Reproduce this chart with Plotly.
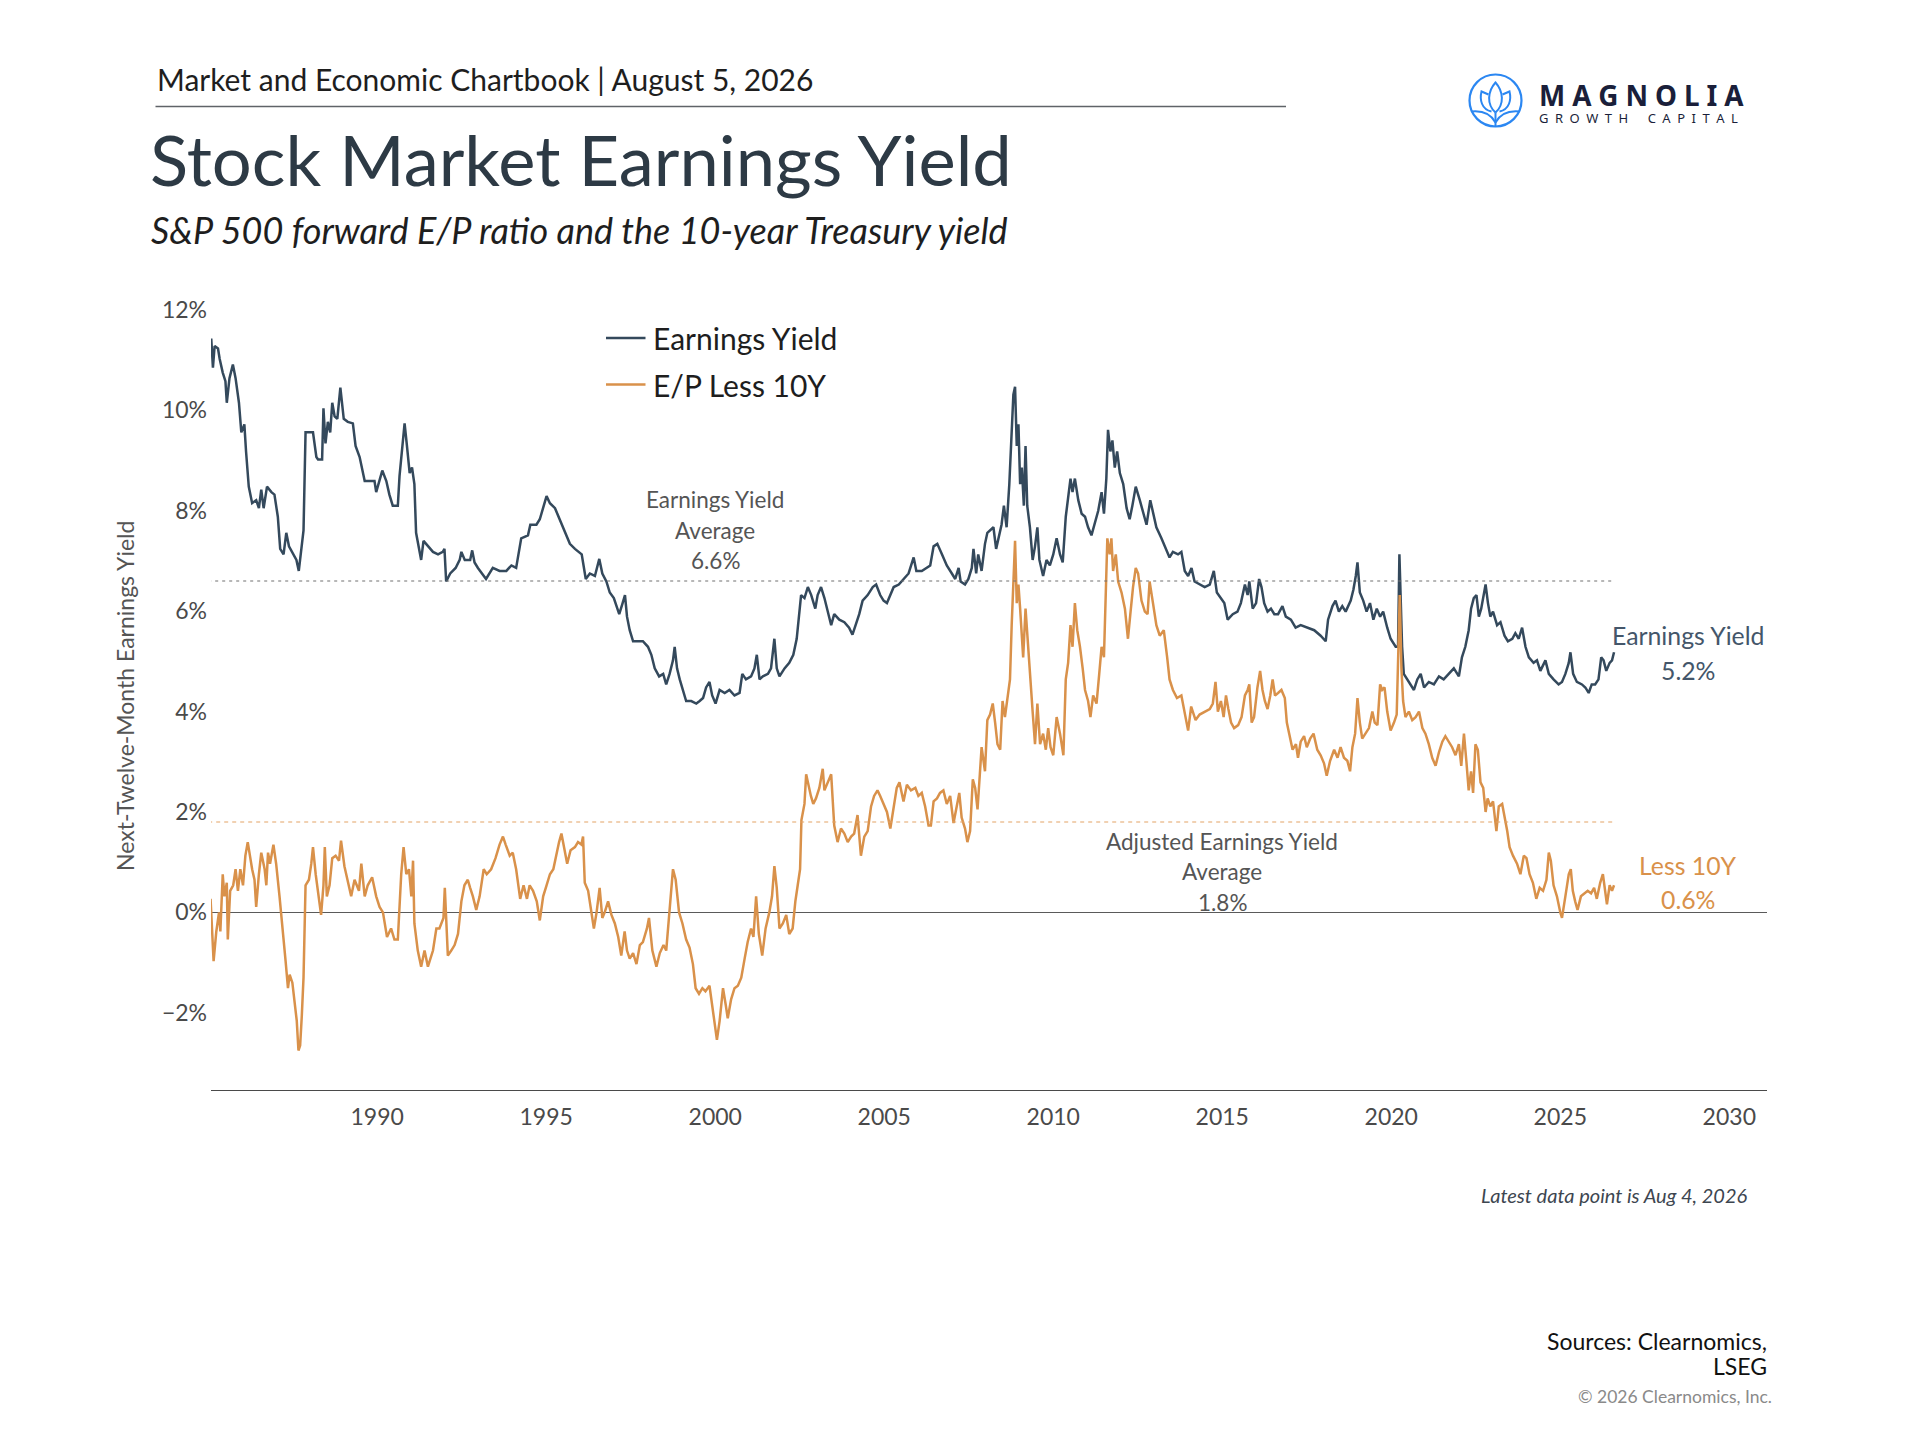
#chart: stock market earnings yield vs E/P less 10y treasury

#%%
import plotly.graph_objects as go

#%%
#values (decimal years, percent)

ey_year = [1985.09, 1985.14, 1985.19, 1985.29, 1985.34, 1985.43, 1985.51, 1985.55, 1985.63, 1985.73,
           1985.81, 1985.91, 1985.98, 1986.07, 1986.12, 1986.2, 1986.3, 1986.42, 1986.5, 1986.57,
           1986.64, 1986.74, 1986.87, 1986.96, 1987.06, 1987.13, 1987.23, 1987.31, 1987.39, 1987.49,
           1987.61, 1987.68, 1987.75, 1987.82, 1987.88, 1988.1, 1988.2, 1988.25, 1988.37, 1988.41,
           1988.47, 1988.54, 1988.61, 1988.67, 1988.74, 1988.82, 1988.91, 1989.01, 1989.13, 1989.28,
           1989.36, 1989.48, 1989.63, 1989.78, 1989.92, 1989.97, 1990.07, 1990.15, 1990.27, 1990.36,
           1990.46, 1990.61, 1990.66, 1990.74, 1990.81, 1990.88, 1990.96, 1991.03, 1991.1, 1991.15,
           1991.25, 1991.3, 1991.37, 1991.5, 1991.65, 1991.8, 1991.94, 1991.99, 1992.04, 1992.16,
           1992.32, 1992.44, 1992.49, 1992.59, 1992.75, 1992.81, 1992.88, 1992.98, 1993.22, 1993.42,
           1993.62, 1993.82, 1993.97, 1994.11, 1994.26, 1994.46, 1994.53, 1994.71,
           1994.81, 1995.01, 1995.11, 1995.26, 1995.4, 1995.55, 1995.7, 1995.85, 1995.98, 1996.05,
           1996.09, 1996.17, 1996.29, 1996.44, 1996.57, 1996.66, 1996.78, 1996.88, 1997.0, 1997.16,
           1997.26, 1997.33, 1997.39, 1997.47, 1997.57, 1997.71, 1997.86, 1998.01, 1998.11, 1998.21,
           1998.34, 1998.46, 1998.55, 1998.65, 1998.75, 1998.8, 1998.87, 1998.95, 1999.04, 1999.14,
           1999.29, 1999.44, 1999.54, 1999.64, 1999.73, 1999.83, 1999.91, 2000.01, 2000.13, 2000.28,
           2000.42, 2000.57, 2000.72, 2000.8, 2000.91, 2001.06, 2001.16, 2001.23, 2001.31, 2001.41,
           2001.56, 2001.65, 2001.75, 2001.82, 2001.9, 2002.05, 2002.19, 2002.31, 2002.41, 2002.47,
           2002.54, 2002.64, 2002.74, 2002.84, 2002.96, 2003.03, 2003.13, 2003.23, 2003.33, 2003.43,
           2003.52, 2003.67, 2003.82, 2003.96, 2004.06, 2004.16, 2004.26, 2004.36, 2004.51, 2004.66,
           2004.76,
           2004.88, 2004.98, 2005.08, 2005.18, 2005.28, 2005.43, 2005.57, 2005.72, 2005.87, 2005.95,
           2006.11, 2006.26, 2006.36, 2006.46, 2006.57, 2006.71, 2006.85, 2007.0, 2007.1, 2007.2,
           2007.26, 2007.39, 2007.49, 2007.59, 2007.64, 2007.72, 2007.78, 2007.88, 2007.98, 2008.05,
           2008.13, 2008.23, 2008.31, 2008.41, 2008.47, 2008.54, 2008.62, 2008.7, 2008.77, 2008.82,
           2008.87, 2008.92, 2008.97, 2009.02, 2009.07, 2009.13, 2009.18, 2009.23, 2009.31, 2009.39,
           2009.46, 2009.53, 2009.59, 2009.7, 2009.8, 2009.9, 2010.0, 2010.1, 2010.2, 2010.28,
           2010.37, 2010.44, 2010.51, 2010.57, 2010.64, 2010.74, 2010.84, 2010.94, 2011.03, 2011.13,
           2011.23, 2011.33, 2011.43, 2011.5, 2011.57, 2011.62, 2011.69, 2011.75, 2011.82, 2011.89,
           2011.97, 2012.07, 2012.17, 2012.26, 2012.34, 2012.44, 2012.56, 2012.66, 2012.76, 2012.87,
           2012.95, 2013.05, 2013.2, 2013.33, 2013.44, 2013.54, 2013.69, 2013.79, 2013.89, 2013.99,
           2014.09, 2014.18, 2014.33, 2014.48, 2014.63, 2014.75, 2014.84,
           2014.96, 2015.06, 2015.16, 2015.31, 2015.45, 2015.55, 2015.67, 2015.75, 2015.8, 2015.9,
           2016.0, 2016.09, 2016.16, 2016.24, 2016.34, 2016.44, 2016.54, 2016.65, 2016.78, 2016.88,
           2017.03, 2017.17, 2017.32, 2017.52, 2017.72, 2017.91, 2018.06, 2018.13, 2018.26, 2018.35,
           2018.45, 2018.55, 2018.65, 2018.8, 2018.88, 2018.95, 2019.0, 2019.07, 2019.17, 2019.27,
           2019.37, 2019.47, 2019.57, 2019.67, 2019.76, 2019.88, 2019.98, 2020.13, 2020.2, 2020.24,
           2020.28, 2020.32, 2020.37, 2020.47, 2020.57, 2020.67, 2020.77, 2020.87, 2020.97, 2021.11,
           2021.26, 2021.41, 2021.55, 2021.7, 2021.85, 2022.0, 2022.09, 2022.19, 2022.29, 2022.36,
           2022.44, 2022.52, 2022.59, 2022.66, 2022.74, 2022.79, 2022.86, 2022.93, 2023.01, 2023.13,
           2023.23, 2023.35, 2023.45, 2023.58, 2023.67, 2023.77, 2023.87, 2023.97, 2024.07, 2024.21,
           2024.31, 2024.41, 2024.56, 2024.66, 2024.8, 2024.95, 2025.05, 2025.15, 2025.25, 2025.3,
           2025.38, 2025.49, 2025.64, 2025.74, 2025.84, 2025.93, 2026.03, 2026.13, 2026.21, 2026.28,
           2026.36, 2026.46, 2026.53, 2026.59]

ey_value = [11.43, 10.85, 11.28, 11.23, 11.02, 10.75, 10.58, 10.15, 10.64, 10.91,
            10.64, 10.15, 9.56, 9.72, 9.18, 8.48, 8.15, 8.21, 8.05, 8.42,
            8.05, 8.48, 8.37, 8.32, 7.88, 7.24, 7.13, 7.56, 7.29, 7.18,
            7.02, 6.8, 7.24, 7.61, 9.56, 9.56, 9.07, 9.02, 9.02, 10.04,
            9.34, 9.77, 9.56, 10.15, 9.88, 9.83, 10.45, 9.83, 9.77, 9.74,
            9.29, 9.07, 8.59, 8.59, 8.59, 8.37, 8.64, 8.8, 8.59, 8.32,
            8.1, 8.1, 8.69, 9.29, 9.74, 9.29, 8.75, 8.86, 8.53, 7.56,
            7.24, 7.02, 7.4, 7.29, 7.18, 7.13, 7.18, 7.24, 6.59, 6.75,
            6.86, 7.02, 7.18, 7.02, 7.02, 7.21, 6.97, 6.86, 6.64, 6.86,
            6.8, 6.8, 6.91, 6.86, 7.45, 7.51, 7.72, 7.72,
            7.83, 8.29, 8.15, 8.05, 7.83, 7.56, 7.34, 7.24, 7.18, 7.13,
            6.97, 6.64, 6.75, 6.7, 7.04, 6.75, 6.59, 6.37, 6.26, 5.94,
            6.16, 6.32, 5.89, 5.62, 5.4, 5.4, 5.4, 5.29, 5.13, 4.86,
            4.7, 4.75, 4.54, 4.75, 5.02, 5.29, 4.86, 4.64, 4.43, 4.21,
            4.21, 4.16, 4.21, 4.27, 4.48, 4.59, 4.32, 4.16, 4.43, 4.37,
            4.43, 4.32, 4.37, 4.75, 4.64, 4.7, 4.86, 5.13, 4.64, 4.7,
            4.75, 4.86, 5.45, 4.86, 4.7, 4.86, 4.97, 5.13, 5.45, 5.83,
            6.32, 6.26, 6.48, 6.32, 6.05, 6.32, 6.48, 6.26, 5.99, 5.72,
            5.94, 5.83, 5.78, 5.67, 5.53, 5.72, 5.94, 6.21, 6.32, 6.48,
            6.53,
            6.32, 6.21, 6.16, 6.32, 6.48, 6.53, 6.64, 6.75, 7.07, 6.8,
            6.8, 6.86, 6.91, 7.29, 7.34, 7.13, 6.91, 6.75, 6.64, 6.86,
            6.59, 6.53, 6.64, 6.86, 7.24, 6.75, 7.13, 6.8, 7.34, 7.56,
            7.61, 7.67, 7.24, 7.51, 7.72, 8.1, 7.67, 8.53, 9.72, 10.31,
            10.47, 9.29, 9.72, 8.53, 8.86, 8.1, 9.29, 8.1, 7.67, 7.02,
            7.29, 7.67, 7.02, 6.7, 7.02, 6.91, 7.13, 7.45, 7.13, 6.97,
            7.88, 8.21, 8.64, 8.37, 8.64, 8.21, 7.94, 7.88, 7.67, 7.51,
            7.78, 8.0, 8.37, 7.94, 8.64, 9.61, 9.18, 9.4, 8.86, 9.18,
            8.75, 8.53, 8.05, 7.83, 8.1, 8.48, 8.21, 7.94, 7.72, 8.21,
            7.94, 7.67, 7.45, 7.24, 7.07, 7.18, 7.13, 7.18, 6.8, 6.7,
            6.86, 6.59, 6.53, 6.48, 6.53, 6.8, 6.37,
            6.26, 6.16, 5.83, 5.94, 5.99, 6.16, 6.53, 6.32, 6.59, 6.05,
            6.16, 6.64, 6.48, 6.16, 5.99, 6.05, 5.94, 5.94, 6.1, 5.89,
            5.83, 5.67, 5.72, 5.67, 5.62, 5.51, 5.4, 5.83, 6.1, 6.21,
            5.99, 6.1, 5.99, 6.21, 6.43, 6.7, 6.97, 6.37, 6.21, 5.99,
            6.16, 5.83, 6.05, 5.89, 5.99, 5.67, 5.45, 5.29, 5.29, 7.13,
            6.26, 5.29, 4.75, 4.64, 4.54, 4.43, 4.64, 4.75, 4.48, 4.59,
            4.54, 4.7, 4.64, 4.75, 4.86, 4.7, 5.08, 5.29, 5.62, 6.05,
            6.26, 6.32, 5.89, 6.05, 6.32, 6.53, 6.16, 5.89, 5.99, 5.72,
            5.78, 5.51, 5.4, 5.45, 5.56, 5.45, 5.67, 5.29, 5.08, 4.97,
            5.02, 4.81, 5.02, 4.75, 4.64, 4.54, 4.59, 4.75, 4.97, 5.18,
            4.75, 4.59, 4.54, 4.48, 4.37, 4.54, 4.54, 4.64, 5.08, 5.02,
            4.81, 4.97, 5.02, 5.18]

spread_year = [1985.07, 1985.16, 1985.24, 1985.32, 1985.36, 1985.43, 1985.48, 1985.55, 1985.58, 1985.65,
               1985.74, 1985.81, 1985.88, 1985.95, 1986.03, 1986.1, 1986.17, 1986.24, 1986.3, 1986.37,
               1986.42, 1986.5, 1986.57, 1986.67, 1986.72, 1986.77, 1986.83, 1986.93, 1987.01, 1987.11,
               1987.21, 1987.29, 1987.36, 1987.41, 1987.49, 1987.55, 1987.62, 1987.67, 1987.72, 1987.77,
               1987.82, 1987.88, 1987.98, 1988.05, 1988.1, 1988.18, 1988.27, 1988.34, 1988.41, 1988.45,
               1988.51, 1988.59, 1988.67, 1988.77, 1988.87, 1988.93, 1989.03, 1989.16, 1989.23, 1989.33,
               1989.46, 1989.53, 1989.63, 1989.72, 1989.85, 1989.97, 1990.07, 1990.17, 1990.29, 1990.41,
               1990.51, 1990.61, 1990.71, 1990.78, 1990.86, 1990.94, 1991.01, 1991.06, 1991.1, 1991.2,
               1991.3, 1991.4, 1991.5, 1991.65, 1991.75, 1991.84, 1991.96, 1992.0, 1992.09, 1992.19,
               1992.29, 1992.39, 1992.49, 1992.58, 1992.68, 1992.75, 1992.83, 1992.93, 1993.03, 1993.15,
               1993.24, 1993.37, 1993.5, 1993.62, 1993.72, 1993.8, 1993.92, 1994.01, 1994.11, 1994.23,
               1994.33, 1994.43, 1994.51, 1994.61, 1994.72,
               1994.81, 1994.91, 1995.01, 1995.11, 1995.21, 1995.31, 1995.38, 1995.45, 1995.55, 1995.62,
               1995.72, 1995.85, 1995.94, 1996.04, 1996.09, 1996.14, 1996.24, 1996.34, 1996.41, 1996.49,
               1996.58, 1996.66, 1996.73, 1996.83, 1996.93, 1997.03, 1997.13, 1997.22, 1997.32, 1997.39,
               1997.47, 1997.57, 1997.67, 1997.77, 1997.86, 1997.98, 1998.04, 1998.14, 1998.26, 1998.36,
               1998.47, 1998.55, 1998.65, 1998.75, 1998.83, 1998.93, 1999.03, 1999.14, 1999.24, 1999.34,
               1999.42, 1999.52, 1999.62, 1999.71, 1999.83, 1999.91, 1999.98, 2000.05, 2000.13, 2000.23,
               2000.31, 2000.37, 2000.47, 2000.57, 2000.67, 2000.77, 2000.87, 2000.96, 2001.06, 2001.13,
               2001.21, 2001.29, 2001.39, 2001.49, 2001.6, 2001.68, 2001.75, 2001.82, 2001.9, 2002.0,
               2002.1, 2002.19, 2002.29, 2002.37, 2002.44, 2002.51, 2002.55, 2002.64, 2002.69, 2002.77,
               2002.83, 2002.9, 2002.98, 2003.08, 2003.18, 2003.23, 2003.33, 2003.43, 2003.52, 2003.62,
               2003.72, 2003.82, 2003.92, 2004.02, 2004.11, 2004.21, 2004.31, 2004.41, 2004.51, 2004.61,
               2004.7, 2004.8,
               2004.88, 2004.98, 2005.08, 2005.18, 2005.28, 2005.37, 2005.45, 2005.57, 2005.67, 2005.79,
               2005.92, 2006.01, 2006.11, 2006.21, 2006.31, 2006.38, 2006.46, 2006.56, 2006.65, 2006.75,
               2006.85, 2006.95, 2007.05, 2007.15, 2007.22, 2007.29, 2007.39, 2007.46, 2007.54, 2007.62,
               2007.69, 2007.76, 2007.81, 2007.88, 2007.98, 2008.05, 2008.13, 2008.21, 2008.28, 2008.35,
               2008.43, 2008.5, 2008.57, 2008.64, 2008.72, 2008.77, 2008.82, 2008.87, 2008.92, 2008.97,
               2009.02, 2009.06, 2009.11, 2009.18, 2009.23, 2009.31, 2009.39, 2009.46, 2009.53, 2009.61,
               2009.7, 2009.78, 2009.85, 2009.92, 2010.0, 2010.1, 2010.2, 2010.3, 2010.37, 2010.44,
               2010.51, 2010.57, 2010.64, 2010.71, 2010.79, 2010.87, 2010.94, 2011.03, 2011.1, 2011.18,
               2011.28, 2011.36, 2011.43, 2011.5, 2011.56, 2011.6, 2011.67, 2011.72, 2011.77, 2011.85,
               2011.92, 2012.02, 2012.12, 2012.21, 2012.28, 2012.36, 2012.44, 2012.51, 2012.61, 2012.71,
               2012.79, 2012.85, 2012.95, 2013.05, 2013.15, 2013.27, 2013.37, 2013.44, 2013.54, 2013.66,
               2013.79, 2013.89, 2013.99, 2014.08, 2014.21, 2014.33, 2014.48, 2014.63, 2014.72, 2014.8,
               2014.87,
               2014.96, 2015.04, 2015.11, 2015.18, 2015.26, 2015.35, 2015.47, 2015.57, 2015.67, 2015.75,
               2015.8, 2015.87, 2015.94, 2016.04, 2016.12, 2016.19, 2016.26, 2016.34, 2016.42, 2016.49,
               2016.56, 2016.65, 2016.75, 2016.85, 2016.91, 2016.98, 2017.08, 2017.18, 2017.24, 2017.32,
               2017.42, 2017.5, 2017.6, 2017.7, 2017.81, 2017.91, 2018.01, 2018.09, 2018.19, 2018.31,
               2018.41, 2018.5, 2018.6, 2018.7, 2018.78, 2018.85, 2018.93, 2019.0, 2019.07, 2019.14,
               2019.24, 2019.34, 2019.44, 2019.51, 2019.59, 2019.67, 2019.73, 2019.8, 2019.88, 2019.98,
               2020.08, 2020.16, 2020.22, 2020.25, 2020.3, 2020.35, 2020.42, 2020.52, 2020.62, 2020.72,
               2020.82, 2020.92, 2021.01, 2021.11, 2021.21, 2021.31, 2021.41, 2021.51, 2021.6, 2021.7,
               2021.8, 2021.9, 2022.0, 2022.07, 2022.15, 2022.22, 2022.29, 2022.36, 2022.42, 2022.49,
               2022.56, 2022.64, 2022.72, 2022.79, 2022.85, 2022.93, 2023.01, 2023.11, 2023.18, 2023.28,
               2023.35, 2023.43, 2023.5, 2023.6, 2023.72, 2023.82, 2023.92, 2024.0, 2024.09, 2024.19,
               2024.29, 2024.39, 2024.49, 2024.59, 2024.66, 2024.72, 2024.8, 2024.9, 2025.0, 2025.05,
               2025.15, 2025.25, 2025.31, 2025.37, 2025.44, 2025.51, 2025.61, 2025.71, 2025.81, 2025.91,
               2026.0, 2026.08, 2026.18, 2026.26, 2026.33, 2026.38, 2026.46, 2026.53, 2026.59]

spread_value = [0.27, -0.97, -0.38, 0.0, -0.38, 0.76, 0.32, 0.59, -0.54, 0.43,
                0.54, 0.86, 0.43, 0.86, 0.54, 1.13, 1.4, 1.08, 0.86, 0.65,
                0.11, 0.76, 1.19, 0.86, 0.54, 1.19, 0.97, 1.35, 0.97, 0.32,
                -0.32, -0.97, -1.51, -1.24, -1.4, -1.78, -2.16, -2.75, -2.65, -2.05,
                -1.3, 0.54, 0.65, 0.97, 1.3, 0.76, 0.32, -0.05, 0.54, 1.3,
                0.32, 0.54, 1.08, 1.13, 1.03, 1.43, 0.92, 0.54, 0.32, 0.65,
                0.43, 0.97, 0.32, 0.54, 0.7, 0.32, 0.11, 0.0, -0.49, -0.32,
                -0.54, -0.54, 0.76, 1.3, 0.76, 0.86, 0.32, 1.03, -0.22, -0.76,
                -1.08, -0.76, -1.08, -0.76, -0.32, -0.32, -0.11, 0.49, -0.86, -0.76,
                -0.65, -0.43, 0.22, 0.54, 0.65, 0.49, 0.32, 0.05, 0.32, 0.86,
                0.76, 0.86, 1.08, 1.35, 1.51, 1.35, 1.13, 1.19, 0.86, 0.27,
                0.54, 0.27, 0.54, 0.43, 0.22,
                -0.16, 0.32, 0.54, 0.76, 0.86, 1.19, 1.4, 1.57, 1.19, 0.97,
                1.24, 1.3, 1.4, 1.35, 1.51, 0.59, 0.43, 0.0, -0.32, 0.0,
                0.49, -0.11, 0.0, 0.22, -0.05, -0.22, -0.49, -0.86, -0.38, -0.76,
                -0.92, -0.81, -1.03, -0.65, -0.59, -0.32, -0.11, -0.76, -1.08, -0.81,
                -0.65, -0.76, 0.11, 0.86, 0.65, 0.0, -0.22, -0.54, -0.7, -1.03,
                -1.51, -1.62, -1.51, -1.57, -1.46, -1.84, -2.27, -2.54, -2.16, -1.51,
                -1.84, -2.11, -1.73, -1.51, -1.46, -1.3, -0.92, -0.59, -0.32, -0.49,
                0.32, -0.43, -0.86, -0.32, 0.0, 0.32, 0.92, 0.49, -0.32, -0.22,
                -0.05, -0.43, -0.32, 0.22, 0.54, 0.86, 1.84, 2.16, 2.75, 2.48,
                2.32, 2.16, 2.27, 2.48, 2.86, 2.43, 2.59, 2.75, 1.73, 1.4,
                1.67, 1.57, 1.4, 1.51, 1.57, 1.94, 1.13, 1.51, 1.62, 2.11,
                2.32, 2.43,
                2.32, 2.16, 2.0, 1.67, 2.11, 2.48, 2.59, 2.21, 2.54, 2.43,
                2.48, 2.32, 2.38, 2.11, 1.73, 1.73, 2.21, 2.27, 2.38, 2.43,
                2.16, 2.32, 1.78, 2.16, 2.38, 1.89, 1.67, 1.4, 1.62, 2.65,
                2.48, 2.05, 2.54, 3.29, 2.81, 3.83, 3.94, 4.16, 3.78, 3.35,
                3.24, 4.21, 3.89, 4.27, 4.64, 5.72, 6.59, 7.4, 6.16, 6.53,
                6.05, 5.51, 5.08, 6.05, 5.51, 4.86, 4.0, 3.35, 4.16, 3.35,
                3.56, 3.24, 3.67, 3.29, 3.13, 3.89, 3.56, 3.13, 4.64, 4.97,
                5.72, 5.29, 6.16, 5.62, 5.29, 4.86, 4.43, 4.21, 3.89, 4.32,
                4.16, 4.75, 5.29, 5.08, 6.26, 7.45, 7.13, 7.45, 6.8, 7.13,
                6.59, 6.37, 6.05, 5.45, 5.94, 6.48, 6.86, 6.75, 6.21, 5.99,
                5.94, 6.59, 6.16, 5.72, 5.51, 5.62, 5.08, 4.64, 4.43, 4.27,
                4.32, 4.0, 3.62, 4.1, 3.83, 3.94, 4.0, 4.05, 4.16, 4.59,
                4.0,
                4.21, 3.89, 4.32, 4.05, 3.78, 3.67, 3.73, 3.89, 4.32, 4.43,
                4.54, 3.78, 3.89, 4.48, 4.81, 4.43, 4.21, 4.05, 4.32, 4.64,
                4.32, 4.37, 4.43, 4.27, 3.78, 3.56, 3.24, 3.35, 3.08, 3.4,
                3.51, 3.29, 3.46, 3.56, 3.24, 3.13, 2.97, 2.72, 3.02, 3.24,
                3.08, 3.29, 3.08, 3.02, 2.81, 3.29, 3.56, 4.27, 3.78, 3.46,
                3.56, 3.67, 4.0, 3.78, 3.73, 4.54, 4.43, 4.48, 4.0, 3.62,
                3.78, 3.94, 5.51, 6.32, 4.86, 4.21, 3.89, 4.0, 3.83, 3.89,
                4.0, 3.67, 3.56, 3.35, 3.08, 2.92, 3.19, 3.4, 3.51, 3.4,
                3.29, 3.13, 3.35, 2.92, 3.56, 3.02, 2.43, 2.81, 2.38, 3.35,
                3.24, 2.59, 2.48, 2.0, 2.27, 2.11, 2.21, 1.62, 2.11, 2.16,
                1.94, 1.62, 1.3, 1.13, 0.97, 0.76, 1.13, 1.08, 0.76, 0.59,
                0.27, 0.49, 0.43, 0.65, 1.19, 1.03, 0.54, 0.32, 0.0, -0.11,
                0.32, 0.76, 0.86, 0.43, 0.22, 0.05, 0.32, 0.38, 0.43, 0.38,
                0.49, 0.27, 0.59, 0.76, 0.43, 0.16, 0.54, 0.43, 0.54]

ey_avg = 6.6
spread_avg = 1.8
ey_last = 5.2
spread_last = 0.6

year_ticks = [1990, 1995, 2000, 2005, 2010, 2015, 2020, 2025, 2030]
pct_ticks = [-2, 0, 2, 4, 6, 8, 10, 12]

#%%
#colours / fonts
slate = "#34495c"
orange = "#d9914a"
grey_txt = "#555555"
font = "Lato"

#page is 1904x1424 (browser adds 8px body margin round it)
W, H = 1904, 1424
#plot box in figure pixels, used to park text around it
L, R, T, B = 203, 1759, 300, 1082

def px(x):
    return (x - L) / (R - L)

def py(y):
    return (B - y) / (B - T)

def path(points):
    #pixel points -> svg path in paper coords
    out = ""
    for cmd, pts in points:
        out += cmd + " ".join(f"{px(a):.5f},{py(b):.5f}" for a, b in pts) + " "
    return out.strip()

def pct(v):
    return ("\u2212" if v < 0 else "") + f"{abs(v)}%"

#%%
fig = go.Figure()

fig.add_trace(go.Scatter(x=ey_year, y=ey_value, mode="lines", name="Earnings Yield",
                         line=dict(color=slate, width=2.5)))
fig.add_trace(go.Scatter(x=spread_year, y=spread_value, mode="lines", name="E/P Less 10Y",
                         line=dict(color=orange, width=2.5)))

#average lines, drawn across the data span
span = [1985.0, ey_year[-1]]
fig.add_trace(go.Scatter(x=span, y=[ey_avg, ey_avg], mode="lines", hoverinfo="skip",
                         line=dict(color="#707070", width=1.2, dash="3px,4px")))
fig.add_trace(go.Scatter(x=span, y=[spread_avg, spread_avg], mode="lines", hoverinfo="skip",
                         line=dict(color="#e3a467", width=1.2, dash="4px,4px")))

fig.update_layout(
    width=W, height=H,
    margin=dict(l=L, r=W - R, t=T, b=H - B),
    paper_bgcolor="white", plot_bgcolor="white",
    showlegend=False,
    font=dict(family=font, color=grey_txt),
)

fig.update_xaxes(
    range=[1985.083, 2031.115],
    tickvals=year_ticks, ticktext=[str(y) for y in year_ticks],
    showgrid=False, zeroline=False,
    showline=True, linecolor="#4a4a4a", linewidth=1.4,
    ticks="", ticklabelstandoff=6,
    tickfont=dict(size=23, color="#4a4a4a"),
)
fig.update_yaxes(
    range=[-3.537, 12.037],
    tickvals=pct_ticks, ticktext=[pct(v) for v in pct_ticks],
    showgrid=False, zeroline=True, zerolinecolor="#5a5a5a", zerolinewidth=1.4,
    showline=False, ticks="", ticklabelstandoff=3,
    tickfont=dict(size=23, color="#4a4a4a"),
)

#%%
#header, title, subtitle
def txt(x, y, s, size, color="#222222", xanchor="left", **kw):
    fig.add_annotation(x=px(x), y=py(y), xref="paper", yref="paper", text=s,
                       showarrow=False, xanchor=xanchor, yanchor="middle",
                       font=dict(family=kw.pop("family", font), size=size, color=color), **kw)

txt(146.5, 70.5, "Market and Economic Chartbook | August 5, 2026", 30, "#1e1e1e")
fig.add_shape(type="line", xref="paper", yref="paper", x0=px(147.5), x1=px(1278), y0=py(98.6), y1=py(98.6),
              line=dict(color="#5f6368", width=1.5))
txt(139.5, 150.5, "Stock Market Earnings Yield", 70.5, "#2d3a45")
txt(140.5, 221.5, "<i>S&P 500 forward E/P ratio and the 10-year Treasury yield</i>", 36, "#1e1e1e")

#logo
blue = "#2b87f2"
cx, cy = 1487.5, 92.5
fig.add_shape(type="circle", xref="paper", yref="paper",
              x0=px(cx - 26), x1=px(cx + 26), y0=py(cy + 26), y1=py(cy - 26),
              line=dict(color=blue, width=2.2))
petals = [
    [("M", [(cx, cy + 12)]), ("C", [(cx - 9, cy + 4), (cx - 8, cy - 9), (cx, cy - 18)]),
     ("C", [(cx + 8, cy - 9), (cx + 9, cy + 4), (cx, cy + 12)])],
    [("M", [(cx - 4, cy + 11)]), ("C", [(cx - 14, cy + 9), (cx - 16, cy - 1), (cx - 14, cy - 9)]),
     ("L", [(cx - 7, cy - 6)])],
    [("M", [(cx + 4, cy + 11)]), ("C", [(cx + 14, cy + 9), (cx + 16, cy - 1), (cx + 14, cy - 9)]),
     ("L", [(cx + 7, cy - 6)])],
    [("M", [(cx, cy + 26)]), ("L", [(cx, cy + 12)])],
    [("M", [(cx, cy + 22)]), ("C", [(cx - 5, cy + 13), (cx - 14, cy + 10), (cx - 24, cy + 11)])],
    [("M", [(cx, cy + 22)]), ("C", [(cx + 5, cy + 13), (cx + 14, cy + 10), (cx + 24, cy + 11)])],
]
for p in petals:
    fig.add_shape(type="path", xref="paper", yref="paper", path=path(p),
                  line=dict(color=blue, width=2))
#wordmark as one two-line block: big name, small spaced tagline
wordmark = ("<span style='font-size:27.8px'><b>" + "\u2005".join("MAGNOLIA") + "</b></span><br>"
            + "\u2002".join("GROWTH") + "\u2002\u2002\u2002" + "\u2002".join("CAPITAL"))
txt(1530, 93, wordmark, 13, "#1a1f3a", family="Noto Sans", align="left", borderpad=0)

#%%
#legend, drawn by hand so it sits where the picture has it
for yy, col, name in [(330, slate, "Earnings Yield"), (376.5, orange, "E/P Less 10Y")]:
    fig.add_shape(type="line", xref="paper", yref="paper", x0=px(598), x1=px(637.5), y0=py(yy), y1=py(yy),
                  line=dict(color=col, width=2.5))
    txt(643, yy, name, 30, "#1e1e1e")

#%%
#in-chart notes
def note(x, ys, lines, size, color):
    for yy, s in zip(ys, lines):
        txt(x, yy, s, size, color, xanchor="center")

note(707, [491.5, 522, 552.5], ["Earnings Yield", "Average", f"{ey_avg}%"], 22.5, grey_txt)
note(1214, [833, 863.5, 894], ["Adjusted Earnings Yield", "Average", f"{spread_avg}%"], 22.5, grey_txt)
note(1680, [627.5, 662], ["Earnings Yield", f"{ey_last}%"], 24.8, "#44566a")
note(1680, [857.5, 891.5], ["Less 10Y", f"{spread_last}%"], 24.8, orange)

#y axis title
fig.add_annotation(x=px(117), y=py(688), xref="paper", yref="paper", text="Next-Twelve-Month Earnings Yield",
                   showarrow=False, textangle=-90, xanchor="center", yanchor="middle",
                   font=dict(family=font, size=23, color=grey_txt))

#footer
txt(1742, 1187, "<i>Latest data point is Aug 4, 2026</i>", 20, "#3d4650", xanchor="right")
txt(1761, 1333, "Sources: Clearnomics,", 23, "#111111", xanchor="right")
txt(1761, 1357.5, "LSEG", 23, "#111111", xanchor="right")
txt(1766, 1388, "\u00a9 2026 Clearnomics, Inc.", 17.5, "#8a8a8a", xanchor="right")

fig.write_html("out.html")
